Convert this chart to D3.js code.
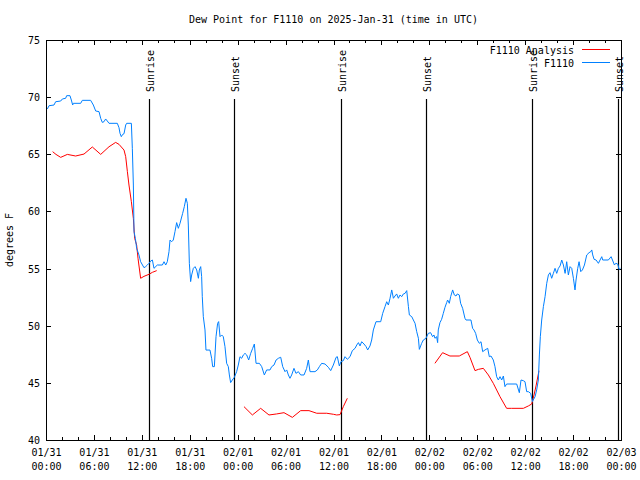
<!DOCTYPE html>
<html><head><meta charset="utf-8">
<script src="https://cdn.jsdelivr.net/npm/d3@7"></script>
<style>
body{margin:0;background:#fff;}
text{font-family:"DejaVu Sans Mono","Liberation Mono",monospace;font-size:10px;fill:#000;}
</style></head>
<body><svg id="c" width="640" height="480"></svg>
<script>
const title = "Dew Point for F1110 on 2025-Jan-31 (time in UTC)";
const yLabel = "degrees F";
const startTime = "2025-01-31T00:00:00Z";
const endTime = "2025-02-03T00:00:00Z";
const yTicks = [40,45,50,55,60,65,70,75];
const seriesNames = ["F1110 Analysis","F1110"];
const seriesColors = ["#ff0000","#0080ff"];

// hours since start
const blueHours = [0.17,0.38,1.0,1.21,1.84,2.05,2.46,2.59,3.0,3.17,3.34,3.42,4.34,4.55,5.59,5.93,6.22,6.64,6.85,7.05,7.26,7.47,7.68,7.89,8.93,9.14,9.27,9.43,9.6,9.77,9.98,10.1,10.69,10.81,10.94,11.02,11.19,11.35,11.64,11.85,12.27,12.48,12.69,12.9,13.11,13.32,13.52,13.94,14.57,14.78,14.99,15.19,15.4,
15.53,15.74,15.94,16.15,16.36,16.57,16.78,17.11,17.32,17.53,17.7,17.82,17.95,18.11,18.24,18.45,18.66,18.87,19.08,19.2,19.37,19.49,19.57,19.7,19.91,20.03,20.53,20.74,20.87,21.08,21.29,21.49,21.62,21.79,22.0,22.2,22.41,22.62,22.83,22.96,23.12,23.33,23.58,23.87,24.08,24.29,24.5,24.71,24.92,25.13,25.38,25.63,25.88,26.09,26.3,26.72,27.01,27.34,27.63,28.05,28.26,28.55,28.81,29.1,29.39,29.64,29.93,30.14,30.35,
30.55,30.76,31.05,31.3,31.6,31.89,32.31,32.64,32.85,33.06,33.68,33.98,34.23,34.52,34.94,35.36,35.65,35.98,36.32,36.48,36.73,36.94,37.23,37.44,37.73,38.07,38.36,38.7,38.91,39.12,39.32,39.53,39.82,40.08,40.28,40.57,40.78,40.99,41.32,41.91,42.16,42.45,42.66,42.87,43.08,43.29,43.5,43.7,43.91,44.12,44.33,44.54,44.75,44.96,45.17,45.38,45.5,45.8,46.0,46.21,46.42,46.63,46.75,
47.04,47.25,47.58,47.87,48.16,48.41,48.58,48.7,48.91,49.04,49.12,49.33,49.54,49.75,49.96,50.17,50.29,50.5,50.67,50.92,51.13,51.34,51.5,51.75,51.92,52.17,52.46,52.59,53.21,53.42,53.59,53.8,54.01,54.26,54.47,54.68,54.97,55.31,55.51,55.72,56.01,56.22,56.43,56.64,56.85,57.06,57.27,57.47,57.68,58.94,59.27,59.48,59.77,59.98,60.19,60.4,60.69,
60.9,61.24,61.44,61.65,61.78,61.9,62.07,62.28,62.49,62.7,62.91,63.11,63.32,63.53,63.74,63.95,64.16,64.37,64.58,64.79,65.0,65.2,65.41,65.62,65.83,66.04,66.24,66.37,66.58,66.75,66.96,67.17,67.42,67.71,68.0,68.21,68.34,68.46,68.63,68.88,69.17,69.38,69.59,69.71,70.42,70.76,70.93,71.18,71.34,71.59,71.76,71.93];
const blueValues = [68.96,69.25,69.31,69.6,69.66,69.84,69.9,70.13,70.13,69.75,69.31,69.46,69.46,69.72,69.72,69.31,68.79,68.73,68.14,67.79,67.85,68.09,67.91,67.71,67.71,67.33,66.83,66.54,66.74,66.8,67.56,67.71,67.71,65.52,62.31,58.23,57.65,56.77,56.19,55.6,55.08,55.17,55.31,55.46,55.66,55.75,55.02,55.31,55.31,55.6,55.31,55.6,56.48,
57.5,57.35,57.5,58.23,59.02,58.52,58.96,59.83,60.42,61.15,60.71,58.81,55.46,53.86,54.44,55.02,55.17,54.88,54.15,54.88,55.17,54.29,52.54,50.79,49.63,47.87,47.87,47.15,46.42,46.42,49.04,50.21,50.36,49.04,49.19,49.04,48.17,46.71,46.42,45.69,45.02,45.25,45.48,45.98,46.56,47.29,47.15,47.44,47.58,47.44,47.0,47.58,48.02,48.4,46.71,46.71,46.42,45.69,46.13,46.13,46.42,46.56,47.0,47.15,47.24,46.42,45.98,46.13,45.69,
45.4,45.69,46.27,45.83,45.98,45.69,45.69,46.27,47.0,45.98,45.98,46.13,46.42,46.71,46.65,46.36,46.07,46.56,47.23,47.29,46.48,46.86,46.94,47.29,47.06,47.29,47.82,48.02,48.31,48.52,48.23,48.6,48.4,48.17,47.88,48.23,48.75,49.63,50.35,50.35,51.08,51.67,52.1,51.81,52.4,53.13,52.4,52.6,52.78,52.4,52.69,52.54,52.78,52.83,53.07,51.67,50.94,50.79,50.5,50.21,49.48,48.9,47.93,
48.46,48.75,48.9,49.33,49.39,49.04,49.19,48.9,49.04,48.52,49.63,50.27,50.56,51.08,51.61,52.02,52.25,51.96,52.54,53.13,52.69,52.6,52.78,52.69,51.96,51.52,50.65,50.5,50.5,49.77,49.63,49.33,48.75,48.46,48.6,47.73,47.88,48.02,47.29,47.35,47.0,46.42,45.54,45.25,45.54,45.25,45.6,44.67,44.9,44.9,44.14,45.25,45.19,45.1,44.23,44.23,44.08,
43.36,43.79,44.38,45.25,47.44,49.04,50.5,51.67,52.54,53.71,54.44,54.64,54.15,54.58,55.02,54.58,55.02,55.23,55.75,55.31,54.58,55.6,54.44,55.17,55.02,54.15,53.13,54.0,55.02,55.6,54.73,54.88,55.31,56.19,56.39,56.48,56.63,56.19,55.81,55.75,55.46,55.75,56.04,55.75,55.75,56.04,55.75,55.31,55.46,55.4,54.93,55.02];

// analysis: null marks a gap
const redHours = [0.83,1.25,1.84,2.67,3.71,4.76,5.8,6.85,7.89,8.72,9.14,9.77,9.98,10.19,10.39,10.69,10.94,11.1,11.35,11.52,11.85,12.27,12.9,13.32,13.86,null,
24.79,25.84,26.88,27.92,28.88,29.8,30.85,31.89,32.93,33.9,35.15,35.99,36.4,36.82,37.23,37.73,null,
48.7,49.66,50.58,51.75,52.76,53.09,53.72,54.14,54.76,55.39,56.01,56.85,57.68,58.31,59.77,60.4,60.82,61.11,61.36,61.73];
const redValues = [65.23,64.99,64.73,64.99,64.85,65.02,65.64,64.99,65.66,66.04,65.87,65.37,64.79,63.48,62.31,60.85,59.39,57.65,57.06,55.9,54.15,54.32,54.5,54.67,54.82,null,
42.92,42.19,42.77,42.19,42.28,42.39,41.98,42.57,42.57,42.34,42.34,42.25,42.19,42.22,42.92,43.65,null,
46.71,47.64,47.35,47.35,47.73,47.23,46.07,46.18,46.27,45.69,44.96,43.79,42.77,42.77,42.77,42.98,43.15,43.94,44.73,46.06];

const sunEvents = ["2025-01-31T12:57:00Z","2025-01-31T23:35:00Z","2025-02-01T12:57:00Z","2025-02-01T23:37:00Z","2025-02-02T12:55:00Z","2025-02-02T23:38:00Z"];
const sunLabels = ["Sunrise","Sunset","Sunrise","Sunset","Sunrise","Sunset"];

const M = {l:46, r:621, t:40, b:440};
const svg = d3.select("#c");
const t0 = new Date(startTime);
const toDate = h => new Date(t0.getTime() + h*3600000);
const x = d3.scaleUtc().domain([t0, new Date(endTime)]).range([M.l, M.r]);
const y = d3.scaleLinear().domain([40,75]).range([M.b, M.t]);

// title & y label
svg.append("text").attr("x",(M.l+M.r)/2).attr("y",23).attr("text-anchor","middle").text(title);
svg.append("text").attr("transform","translate(13,240) rotate(-90)").attr("text-anchor","middle").text(yLabel);

// axes
const majorT = d3.utcHour.every(6).range(x.domain()[0], new Date(x.domain()[1].getTime()+1));
const minorT = d3.utcHour.every(2).range(x.domain()[0], new Date(x.domain()[1].getTime()+1));
const fmt1 = d3.utcFormat("%m/%d"), fmt2 = d3.utcFormat("%H:%M");

svg.append("g").attr("transform",`translate(0,${M.b})`)
  .call(d3.axisBottom(x).tickValues(minorT).tickSize(-3).tickFormat(""));
svg.append("g").attr("transform",`translate(0,${M.t})`)
  .call(d3.axisTop(x).tickValues(minorT).tickSize(-3).tickFormat(""));
const gx = svg.append("g").attr("transform",`translate(0,${M.b})`)
  .call(d3.axisBottom(x).tickValues(majorT).tickSize(-5).tickFormat(""));
svg.append("g").attr("transform",`translate(0,${M.t})`)
  .call(d3.axisTop(x).tickValues(majorT).tickSize(-5).tickFormat(""));
gx.selectAll(".tick").each(function(d){
  const g = d3.select(this);
  g.append("text").attr("y",16).attr("text-anchor","middle").text(fmt1(d));
  g.append("text").attr("y",30).attr("text-anchor","middle").text(fmt2(d));
});
const gy = svg.append("g").attr("transform",`translate(${M.l},0)`)
  .call(d3.axisLeft(y).tickValues(yTicks).tickSize(-5).tickPadding(6));
svg.append("g").attr("transform",`translate(${M.r},0)`)
  .call(d3.axisRight(y).tickValues(yTicks).tickSize(-5).tickFormat(""));
svg.selectAll(".domain").remove();
svg.selectAll(".tick line").attr("stroke","#000").attr("shape-rendering","crispEdges");
svg.selectAll(".tick text").attr("font-family",null).attr("font-size",null).style("fill","#000");
gy.selectAll("text").attr("dy","0.35em");

// sunrise/sunset
sunEvents.forEach((s,i)=>{
  const xx = Math.round(x(new Date(s)))+0.5;
  svg.append("line").attr("x1",xx).attr("x2",xx).attr("y1",99).attr("y2",M.b)
    .attr("stroke","#000").attr("stroke-width",1.2);
  svg.append("text").attr("transform",`translate(${xx+0.5},92) rotate(-90)`)
    .attr("text-anchor","start").attr("dy","0.35em").text(sunLabels[i]);
});

// series
const line = d3.line().defined(d=>d[1]!=null).x(d=>x(toDate(d[0]))).y(d=>y(d[1]));
const redData = redHours.map((h,i)=>[h, redValues[i]]);
const blueData = blueHours.map((h,i)=>[h, blueValues[i]]);
svg.append("path").attr("d",line(redData)).attr("fill","none").attr("stroke",seriesColors[0]).attr("stroke-width",1);
svg.append("path").attr("d",line(blueData)).attr("fill","none").attr("stroke",seriesColors[1]).attr("stroke-width",1);

// border
svg.append("rect").attr("x",M.l+0.5).attr("y",M.t+0.5).attr("width",M.r-M.l).attr("height",M.b-M.t)
  .attr("fill","none").attr("stroke","#000").attr("shape-rendering","crispEdges");

// legend
seriesNames.forEach((n,i)=>{
  const yy = 50 + i*13;
  svg.append("text").attr("x",574).attr("y",yy).attr("dy","0.35em").attr("text-anchor","end").text(n);
  svg.append("line").attr("x1",582).attr("x2",610).attr("y1",yy-0.5).attr("y2",yy-0.5)
    .attr("stroke",seriesColors[i]).attr("stroke-width",1);
});
</script></body></html>
